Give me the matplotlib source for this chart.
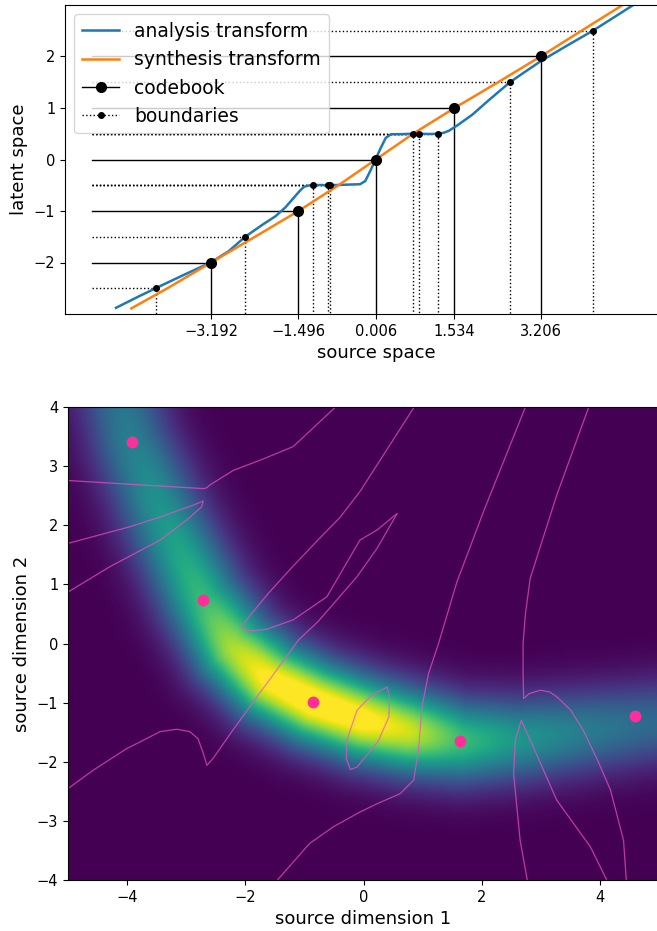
import numpy as np
import matplotlib.pyplot as plt
from matplotlib.lines import Line2D

# ------------------------------------------------------------
# top panel: 1-D transforms
# ------------------------------------------------------------
codebook_x = [-3.192, -1.496, 0.006, 1.534, 3.206]
codebook_y = [-2, -1, 0, 1, 2]

boundary_x = [-4.27, -2.53, -1.22, -0.93, -0.88, 0.73, 0.85, 1.22, 2.61, 4.22]
boundary_y = [-2.5, -1.5, -0.5, -0.5, -0.5, 0.5, 0.5, 0.5, 1.5, 2.5]

analysis_x = [-5.04, -4.6, -4.27, -3.7, -3.2, -2.85, -2.53, -2.2, -1.94, -1.75,
              -1.61, -1.48, -1.39, -1.30, -1.22, -1.08, -0.93, -0.905, -0.88,
              -0.6, -0.3, -0.2, -0.1, 0.0, 0.1, 0.2, 0.3, 0.5, 0.73, 0.79, 0.85,
              1.05, 1.22, 1.33, 1.43, 1.6, 1.88, 2.21, 2.61, 2.9, 3.21, 3.7,
              4.22, 4.6, 4.99]
analysis_y = [-2.88, -2.66, -2.5, -2.23, -2.0, -1.78, -1.5, -1.27, -1.10, -0.93,
              -0.77, -0.62, -0.53, -0.505, -0.5, -0.495, -0.5, -0.502, -0.5,
              -0.49, -0.48, -0.42, -0.22, 0.0, 0.22, 0.42, 0.49, 0.492, 0.5,
              0.503, 0.5, 0.495, 0.5, 0.52, 0.56, 0.67, 0.87, 1.16, 1.5, 1.7,
              1.91, 2.2, 2.5, 2.74, 2.99]

synthesis_y = [-2.89, -2.5, -2, -1.5, -1, -0.5, 0, 0.5, 1, 1.5, 2, 2.5, 3.0]
synthesis_x = [-4.74, -4.04, -3.192, -2.34, -1.496, -0.72, 0.006, 0.73, 1.534,
               2.38, 3.206, 4.0, 4.8]

LINE_START = -5.5

# ------------------------------------------------------------
# bottom panel: 2-D source density + cell boundaries
# ------------------------------------------------------------
# ridge of the banana-shaped density and its relative height along the ridge
ridge_x = [-4.3, -3.92, -3.35, -2.72, -2.2, -1.6, -0.85, 0.0, 0.8, 1.64, 2.6,
           3.6, 4.6, 5.6]
ridge_y = [4.8, 3.4, 2.05, 0.73, -0.08, -0.62, -1.0, -1.3, -1.5, -1.65, -1.62,
           -1.5, -1.38, -1.27]
ridge_level = [0.31, 0.40, 0.50, 0.63, 0.82, 0.96, 1.0, 0.97, 0.86, 0.64, 0.49,
               0.40, 0.33, 0.30]
RIDGE_WIDTH = 0.5

codebook2_x = [-3.92, -2.72, -0.85, 1.64, 4.60]
codebook2_y = [3.40, 0.73, -0.99, -1.65, -1.23]

edge_a_x = [-5.05, -3.73, -2.71, -2.66, -2.60, -2.20, -1.75, -1.19, -0.42]
edge_a_y = [2.76, 2.68, 2.62, 2.63, 2.68, 2.93, 3.10, 3.33, 4.05]

edge_b_x = [-5.05, -3.97, -3.44, -2.88, -2.71, -2.74, -2.99, -3.44, -4.29, -5.05]
edge_b_y = [1.68, 1.97, 2.14, 2.34, 2.41, 2.31, 2.09, 1.75, 1.30, 0.84]

edge_c_x = [0.89, 0.37, -0.06, -0.40, -0.8, -1.2, -1.6, -1.9, -2.02, -2.07,
            -1.98, -1.81, -1.64, -1.19, -0.62, -0.06, 0.23, 0.57, 0.23, -0.11,
            -0.77, -1.10, -1.47, -1.75, -2.20, -2.55, -2.65, -2.71, -2.80,
            -2.94, -3.16, -3.44, -4.01, -4.57, -5.05]
edge_c_y = [4.05, 3.24, 2.57, 2.13, 1.72, 1.30, 0.86, 0.50, 0.34, 0.28,
            0.22, 0.22, 0.24, 0.40, 0.79, 1.75, 1.92, 2.20, 1.61, 1.13,
            0.37, 0.06, -0.45, -0.83, -1.45, -1.95, -2.06, -1.86, -1.61,
            -1.49, -1.45, -1.49, -1.78, -2.14, -2.49]

edge_d_x = [0.40, 0.44, 0.43, 0.25, -0.11, -0.22, -0.29, -0.28, -0.11, 0.15, 0.40]
edge_d_y = [-0.74, -0.90, -1.24, -1.65, -2.09, -2.13, -1.95, -1.63, -1.13, -0.86, -0.74]

edge_e_x = [-1.50, -0.91, -0.51, -0.06, 0.23, 0.62, 0.85, 0.93, 0.99, 1.10,
            1.27, 1.58, 2.03, 2.76]
edge_e_y = [-4.05, -3.38, -3.10, -2.85, -2.71, -2.54, -2.31, -1.80, -1.07,
            -0.51, 0.0, 1.04, 2.23, 4.05]

edge_f_x = [3.83, 3.27, 2.82, 2.74, 2.70, 2.70, 2.71, 2.80, 2.99, 3.15, 3.27,
            3.5, 3.72, 3.95, 4.18, 4.40, 4.45]
edge_f_y = [4.05, 2.51, 1.10, 0.5, 0.0, -0.5, -0.93, -0.85, -0.79, -0.82,
            -0.90, -1.12, -1.47, -1.95, -2.48, -3.33, -4.05]

edge_g_x = [2.78, 2.65, 2.54, 2.57, 2.67, 2.82, 3.27, 3.84, 4.14]
edge_g_y = [-4.05, -3.33, -2.20, -1.63, -1.30, -1.63, -2.65, -3.44, -4.05]

edges = [(edge_a_x, edge_a_y), (edge_b_x, edge_b_y), (edge_c_x, edge_c_y),
         (edge_d_x, edge_d_y), (edge_e_x, edge_e_y), (edge_f_x, edge_f_y),
         (edge_g_x, edge_g_y)]


def ridge_density(xs, ys):
    """Gaussian falloff with distance to the ridge polyline."""
    X, Y = np.meshgrid(xs, ys)
    best_d2 = np.full(X.shape, np.inf)
    level = np.zeros(X.shape)
    for i in range(len(ridge_x) - 1):
        ax_, ay_ = ridge_x[i], ridge_y[i]
        bx_, by_ = ridge_x[i + 1], ridge_y[i + 1]
        dx, dy = bx_ - ax_, by_ - ay_
        t = ((X - ax_) * dx + (Y - ay_) * dy) / (dx * dx + dy * dy)
        t = np.clip(t, 0, 1)
        d2 = (X - ax_ - t * dx) ** 2 + (Y - ay_ - t * dy) ** 2
        lv = ridge_level[i] + t * (ridge_level[i + 1] - ridge_level[i])
        mask = d2 < best_d2
        best_d2[mask] = d2[mask]
        level[mask] = lv[mask]
    return level * np.exp(-best_d2 / (2 * RIDGE_WIDTH ** 2))


def minus(s):
    return s.replace('-', '\u2212')


fig = plt.figure(figsize=(6.57, 9.31), dpi=100)

# ---------------- top panel ----------------
ax1 = fig.add_axes([65 / 657, 1 - 314 / 931, 622 / 657, 309 / 931])

for bx, by in zip(boundary_x, boundary_y):
    ax1.plot([LINE_START, bx, bx], [by, by, -3.5], 'k:', lw=1)
for cx, cy in zip(codebook_x, codebook_y):
    ax1.plot([LINE_START, cx, cx], [cy, cy, -3.5], 'k-', lw=1)

ax1.plot(analysis_x, analysis_y, color='C0', lw=1.8)
ax1.plot(synthesis_x, synthesis_y, color='C1', lw=1.8)

ax1.plot(boundary_x, boundary_y, 'k.', ms=8, ls='none')
ax1.plot(codebook_x, codebook_y, 'ko', ms=7, ls='none')

ax1.set_xlim(-6.03, 6.05)
ax1.set_ylim(-3, 3)
ax1.set_xticks(codebook_x, [minus(f"{v:.3f}") for v in codebook_x])
ax1.set_yticks([-2, -1, 0, 1, 2])
ax1.tick_params(labelsize=10.5)
ax1.set_xlabel('source space', fontsize=13)
ax1.set_ylabel('latent space', fontsize=13)

handles = [
    Line2D([], [], color='C0', lw=1.8),
    Line2D([], [], color='C1', lw=1.8),
    Line2D([], [], color='k', lw=1, marker='o', ms=7),
    Line2D([], [], color='k', lw=1, ls=':', marker='.', ms=8),
]
ax1.legend(handles, ['analysis transform', 'synthesis transform', 'codebook',
                     'boundaries'], loc='upper left', fontsize=13.5)

# ---------------- bottom panel ----------------
ax2 = fig.add_axes([68 / 657, 1 - 880 / 931, 591 / 657, 473 / 931])

gx = np.linspace(-5, 5, 500)
gy = np.linspace(-4, 4, 400)
density = ridge_density(gx, gy)
# slight saturation at the top end gives the broad yellow core
ax2.imshow(density, origin='lower', extent=[-5, 5, -4, 4], cmap='viridis',
           aspect='auto', interpolation='bilinear', vmin=0,
           vmax=0.93 * density.max())

for ex, ey in edges:
    ax2.plot(ex, ey, color='#f050c8', lw=0.9, alpha=0.7)

ax2.plot(codebook2_x, codebook2_y, 'o', color='#ff2e9a', ms=7.5, ls='none')

ax2.set_xlim(-5, 5)
ax2.set_ylim(-4, 4)
ax2.set_xticks([-4, -2, 0, 2, 4])
ax2.set_yticks([-4, -3, -2, -1, 0, 1, 2, 3, 4])
ax2.tick_params(labelsize=10.5)
ax2.set_xlabel('source dimension 1', fontsize=13)
ax2.set_ylabel('source dimension 2', fontsize=13)

plt.savefig('out.png', dpi=100)
plt.close()
